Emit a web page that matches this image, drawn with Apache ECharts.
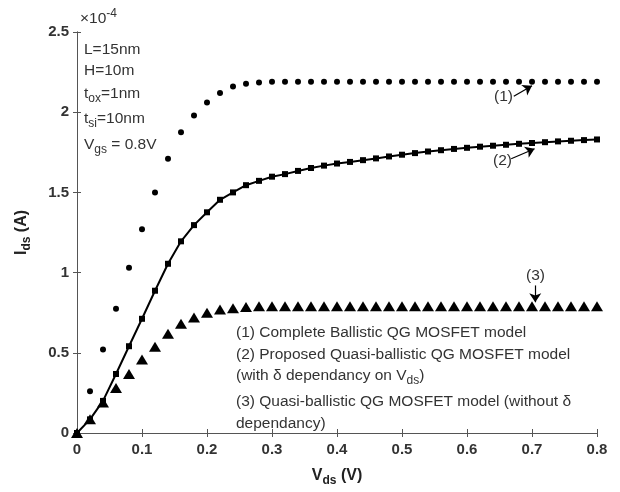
<!DOCTYPE html>
<html lang="en">

<head>
  <meta charset="UTF-8">
  <title>Ids - Vds</title>
  <style>
    body { margin: 0; background: #fff; }
    #main { width: 620px; height: 492px; }
  </style>
</head>

<body>
  <div id="main"></div>
  <script src="https://cdn.jsdelivr.net/npm/echarts@6/dist/echarts.min.js"></script>
  <script>
    // Vds (V), one point every 0.02 V
    const vds = [0, 0.02, 0.04, 0.06, 0.08, 0.1, 0.12, 0.14, 0.16, 0.18,
      0.2, 0.22, 0.24, 0.26, 0.28, 0.3, 0.32, 0.34, 0.36, 0.38,
      0.4, 0.42, 0.44, 0.46, 0.48, 0.5, 0.52, 0.54, 0.56, 0.58,
      0.6, 0.62, 0.64, 0.66, 0.68, 0.7, 0.72, 0.74, 0.76, 0.78, 0.8];

    // Ids in units of 1e-4 A
    // (1) complete ballistic model
    const ballistic = [0, 0.26, 0.52, 0.775, 1.03, 1.27, 1.5, 1.71, 1.875, 1.98,
      2.06, 2.12, 2.16, 2.177, 2.185, 2.19, 2.19, 2.19, 2.19, 2.19,
      2.19, 2.19, 2.19, 2.19, 2.19, 2.19, 2.19, 2.19, 2.19, 2.19,
      2.19, 2.19, 2.19, 2.19, 2.19, 2.19, 2.19, 2.19, 2.19, 2.19, 2.19];
    // (2) proposed quasi-ballistic model (delta depends on Vds)
    const proposed = [0, 0.085, 0.2, 0.368, 0.541, 0.712, 0.887, 1.055, 1.195, 1.296,
      1.376, 1.454, 1.5, 1.545, 1.572, 1.598, 1.614, 1.634, 1.652, 1.667,
      1.68, 1.69, 1.701, 1.712, 1.724, 1.735, 1.745, 1.755, 1.763, 1.771,
      1.778, 1.785, 1.791, 1.797, 1.803, 1.808, 1.813, 1.818, 1.822, 1.826, 1.83];
    // (3) quasi-ballistic model without delta dependency
    const noDelta = [0, 0.085, 0.19, 0.28, 0.368, 0.459, 0.537, 0.619, 0.681, 0.72,
      0.75, 0.77, 0.777, 0.785, 0.79, 0.79, 0.79, 0.79, 0.79, 0.79,
      0.79, 0.79, 0.79, 0.79, 0.79, 0.79, 0.79, 0.79, 0.79, 0.79,
      0.79, 0.79, 0.79, 0.79, 0.79, 0.79, 0.79, 0.79, 0.79, 0.79, 0.79];

    const xTicks = ['0', '0.1', '0.2', '0.3', '0.4', '0.5', '0.6', '0.7', '0.8'];
    const yTicks = ['0', '0.5', '1', '1.5', '2', '2.5'];

    const pair = ys => vds.map((x, i) => [x, ys[i]]);
    const font = 'Liberation Sans, Arial, sans-serif';
    const axisColor = '#555';
    const textColor = '#333';

    // arrows pointing at each curve (data coords)
    const arrow = (a, b) => ({
      silent: true,
      animation: false,
      symbol: ['none', 'arrow'],
      symbolSize: 9,
      label: { show: false },
      lineStyle: { color: '#000', width: 1.2, type: 'solid' },
      data: [[{ coord: a }, { coord: b }]]
    });

    const frameAxis = {
      min: 0,
      axisLine: { show: true, lineStyle: { color: axisColor, width: 1 } },
      axisTick: { show: true, inside: true, length: 4, lineStyle: { color: axisColor } },
      axisLabel: { show: false },
      splitLine: { show: false }
    };

    const sub = { fontSize: 12, padding: [10, 0, 0, 0], fontFamily: font, color: textColor };
    const subBold = Object.assign({}, sub, { fontWeight: 'bold', fontSize: 12, color: '#222' });
    const nameRich = { b: { fontSize: 16, fontWeight: 'bold', color: '#222', fontFamily: font }, s: subBold };

    const option = {
      animation: false,
      textStyle: { fontFamily: font },
      grid: { left: 77, right: 23, top: 32, bottom: 55 },
      xAxis: [
        Object.assign({}, frameAxis, {
          type: 'value', max: 0.8, interval: 0.1, position: 'bottom',
          axisLabel: {
            show: true, margin: 9, fontSize: 15, fontWeight: 'bold', color: textColor,
            formatter: v => xTicks[Math.round(v * 10)]
          },
          name: '{b|V}{s|ds}{b| (V)}',
          nameLocation: 'middle',
          nameGap: 32,
          nameTextStyle: { rich: nameRich }
        }),
        Object.assign({}, frameAxis, { type: 'value', max: 0.8, interval: 0.1, position: 'top' })
      ],
      yAxis: [
        Object.assign({}, frameAxis, {
          type: 'value', max: 2.5, interval: 0.5, position: 'left',
          axisLabel: {
            show: true, margin: 8, fontSize: 15, fontWeight: 'bold', color: textColor,
            formatter: v => yTicks[Math.round(v * 2)]
          },
          name: '{b|I}{s|ds}{b| (A)}',
          nameLocation: 'middle',
          nameGap: 44,
          nameTextStyle: { rich: nameRich }
        }),
        Object.assign({}, frameAxis, { type: 'value', max: 2.5, interval: 0.5, position: 'right' })
      ],
      series: [
        {
          name: '(1)', type: 'scatter', data: pair(ballistic),
          symbol: 'circle', symbolSize: 6,
          itemStyle: { color: '#000', opacity: 1 },
          markLine: arrow([0.672, 2.1], [0.7, 2.165])
        },
        {
          name: '(2)', type: 'line', data: pair(proposed),
          symbol: 'rect', symbolSize: 6, showSymbol: true,
          lineStyle: { color: '#000', width: 2 },
          itemStyle: { color: '#000', opacity: 1 },
          markLine: arrow([0.668, 1.71], [0.704, 1.772])
        },
        {
          name: '(3)', type: 'scatter', data: pair(noDelta),
          symbol: 'triangle', symbolSize: [12, 10],
          itemStyle: { color: '#000', opacity: 1 },
          markLine: arrow([0.705, 0.92], [0.705, 0.815])
        }
      ]
    };

    const myChart = echarts.init(document.getElementById('main'));
    myChart.setOption(option);

    // text annotations (pixel layout, like the figure)
    const txt = (x, y, text, rich, extra) => Object.assign({
      type: 'text', x, y, silent: true,
      style: Object.assign({ text, rich: rich || {}, font: '15.5px ' + font, fill: textColor, textVerticalAlign: 'middle' }, extra || {})
    });
    const n = { fontSize: 15.5, fontFamily: font, color: textColor };
    const r = { s: sub, n };

    myChart.setOption({
      graphic: [
        txt(80, 19, '{n|×10}{p|-4}', { n, p: { fontSize: 12, padding: [0, 0, 11, 0], fontFamily: font, color: textColor } }),
        txt(84, 50, 'L=15nm'),
        txt(84, 71, 'H=10m'),
        txt(84, 94, '{n|t}{s|ox}{n|=1nm}', r),
        txt(84, 119, '{n|t}{s|si}{n|=10nm}', r),
        txt(84, 145, '{n|V}{s|gs}{n| = 0.8V}', r),
        txt(494, 97, '(1)'),
        txt(493, 161, '(2)'),
        txt(526, 276, '(3)'),
        txt(236, 333, '(1) Complete Ballistic QG MOSFET model'),
        txt(236, 355, '(2) Proposed Quasi-ballistic QG MOSFET model'),
        txt(236, 376, '{n|(with δ dependancy on V}{s|ds}{n|)}', r),
        txt(236, 402, '(3) Quasi-ballistic QG MOSFET model (without δ'),
        txt(236, 424, 'dependancy)')
      ]
    });
  </script>
</body>

</html>
